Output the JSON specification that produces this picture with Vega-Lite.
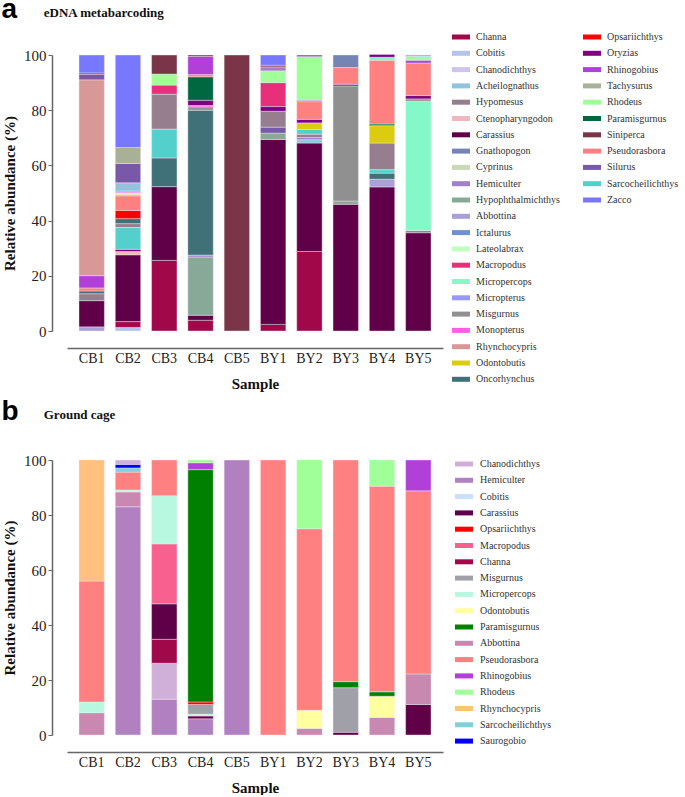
{
  "$schema": "https://vega.github.io/schema/vega-lite/v6.json",
  "background": "white",
  "padding": {"left": 1, "top": -4, "right": 0, "bottom": 0},
  "config": {
    "view": {"stroke": null},
    "axis": {"labelFont": "Liberation Serif", "titleFont": "Liberation Serif", "labelColor": "#222", "titleColor": "#111", "labelFontSize": 15, "titleFontSize": 15, "titleFontWeight": "bold", "domainColor": "#666", "tickColor": "#666", "domainWidth": 1.5, "grid": false},
    "legend": {"labelFont": "Liberation Serif", "labelFontSize": 10, "labelColor": "#333", "symbolType": "M-1.8,-0.5H1.8V0.5H-1.8Z", "symbolSize": 100, "symbolStrokeWidth": 0, "rowPadding": 6.3, "labelOffset": 10, "labelLimit": 220, "title": null},
    "title": {"font": "Liberation Sans", "fontSize": 28, "fontWeight": "bold", "color": "#000", "anchor": "start", "frame": "bounds", "dx": -1, "subtitleFont": "Liberation Serif", "subtitleFontSize": 13, "subtitleFontWeight": "bold", "subtitleColor": "#111", "subtitlePadding": -17}
  },
  "datasets": {
    "eDNA": [
      {"sample": "CB1", "species": "Abbottina", "value": 1.5, "rank": 1},
      {"sample": "CB1", "species": "Carassius", "value": 9.5, "rank": 2},
      {"sample": "CB1", "species": "Hypomesus", "value": 2.5, "rank": 3},
      {"sample": "CB1", "species": "Oncorhynchus", "value": 1.0, "rank": 4},
      {"sample": "CB1", "species": "Pseudorasbora", "value": 1.1, "rank": 5},
      {"sample": "CB1", "species": "Rhinogobius", "value": 4.4, "rank": 6},
      {"sample": "CB1", "species": "Rhynchocypris", "value": 71.0, "rank": 7},
      {"sample": "CB1", "species": "Silurus", "value": 2.0, "rank": 8},
      {"sample": "CB1", "species": "Siniperca", "value": 0.5, "rank": 9},
      {"sample": "CB1", "species": "Zacco", "value": 6.5, "rank": 10},
      {"sample": "CB2", "species": "Cobitis", "value": 1.3, "rank": 1},
      {"sample": "CB2", "species": "Channa", "value": 2.1, "rank": 2},
      {"sample": "CB2", "species": "Carassius", "value": 24.2, "rank": 3},
      {"sample": "CB2", "species": "Ctenopharyngodon", "value": 1.2, "rank": 4},
      {"sample": "CB2", "species": "Oryzias", "value": 0.8, "rank": 5},
      {"sample": "CB2", "species": "Sarcocheilichthys", "value": 7.9, "rank": 6},
      {"sample": "CB2", "species": "Hypomesus", "value": 1.4, "rank": 7},
      {"sample": "CB2", "species": "Oncorhynchus", "value": 1.8, "rank": 8},
      {"sample": "CB2", "species": "Opsariichthys", "value": 3.0, "rank": 9},
      {"sample": "CB2", "species": "Pseudorasbora", "value": 5.2, "rank": 10},
      {"sample": "CB2", "species": "Odontobutis", "value": 0.6, "rank": 11},
      {"sample": "CB2", "species": "Lateolabrax", "value": 0.6, "rank": 12},
      {"sample": "CB2", "species": "Monopterus", "value": 0.6, "rank": 13},
      {"sample": "CB2", "species": "Acheilognathus", "value": 3.0, "rank": 14},
      {"sample": "CB2", "species": "Silurus", "value": 7.0, "rank": 15},
      {"sample": "CB2", "species": "Tachysurus", "value": 5.8, "rank": 16},
      {"sample": "CB2", "species": "Zacco", "value": 33.5, "rank": 17},
      {"sample": "CB3", "species": "Channa", "value": 25.6, "rank": 1},
      {"sample": "CB3", "species": "Carassius", "value": 26.7, "rank": 2},
      {"sample": "CB3", "species": "Oncorhynchus", "value": 10.4, "rank": 3},
      {"sample": "CB3", "species": "Sarcocheilichthys", "value": 10.4, "rank": 4},
      {"sample": "CB3", "species": "Hypomesus", "value": 12.7, "rank": 5},
      {"sample": "CB3", "species": "Macropodus", "value": 3.3, "rank": 6},
      {"sample": "CB3", "species": "Rhodeus", "value": 4.0, "rank": 7},
      {"sample": "CB3", "species": "Siniperca", "value": 6.9, "rank": 8},
      {"sample": "CB4", "species": "Channa", "value": 3.9, "rank": 1},
      {"sample": "CB4", "species": "Carassius", "value": 1.8, "rank": 2},
      {"sample": "CB4", "species": "Hypophthalmichthys", "value": 21.1, "rank": 3},
      {"sample": "CB4", "species": "Hemiculter", "value": 0.7, "rank": 4},
      {"sample": "CB4", "species": "Oncorhynchus", "value": 52.5, "rank": 5},
      {"sample": "CB4", "species": "Misgurnus", "value": 1.2, "rank": 6},
      {"sample": "CB4", "species": "Monopterus", "value": 0.5, "rank": 7},
      {"sample": "CB4", "species": "Oryzias", "value": 1.9, "rank": 8},
      {"sample": "CB4", "species": "Paramisgurnus", "value": 8.5, "rank": 9},
      {"sample": "CB4", "species": "Pseudorasbora", "value": 0.8, "rank": 10},
      {"sample": "CB4", "species": "Rhinogobius", "value": 6.6, "rank": 11},
      {"sample": "CB4", "species": "Siniperca", "value": 0.5, "rank": 12},
      {"sample": "CB5", "species": "Siniperca", "value": 100.0, "rank": 1},
      {"sample": "BY1", "species": "Channa", "value": 2.4, "rank": 1},
      {"sample": "BY1", "species": "Carassius", "value": 67.0, "rank": 2},
      {"sample": "BY1", "species": "Hypophthalmichthys", "value": 2.3, "rank": 3},
      {"sample": "BY1", "species": "Silurus", "value": 2.1, "rank": 4},
      {"sample": "BY1", "species": "Hypomesus", "value": 5.8, "rank": 5},
      {"sample": "BY1", "species": "Oryzias", "value": 1.7, "rank": 6},
      {"sample": "BY1", "species": "Macropodus", "value": 8.7, "rank": 7},
      {"sample": "BY1", "species": "Rhodeus", "value": 4.2, "rank": 8},
      {"sample": "BY1", "species": "Hemiculter", "value": 1.5, "rank": 9},
      {"sample": "BY1", "species": "Siniperca", "value": 0.6, "rank": 10},
      {"sample": "BY1", "species": "Zacco", "value": 3.7, "rank": 11},
      {"sample": "BY2", "species": "Channa", "value": 28.8, "rank": 1},
      {"sample": "BY2", "species": "Carassius", "value": 39.3, "rank": 2},
      {"sample": "BY2", "species": "Acheilognathus", "value": 1.2, "rank": 3},
      {"sample": "BY2", "species": "Hemiculter", "value": 0.8, "rank": 4},
      {"sample": "BY2", "species": "Hypomesus", "value": 1.2, "rank": 5},
      {"sample": "BY2", "species": "Sarcocheilichthys", "value": 1.7, "rank": 6},
      {"sample": "BY2", "species": "Odontobutis", "value": 2.4, "rank": 7},
      {"sample": "BY2", "species": "Oryzias", "value": 1.3, "rank": 8},
      {"sample": "BY2", "species": "Pseudorasbora", "value": 6.4, "rank": 9},
      {"sample": "BY2", "species": "Rhinogobius", "value": 0.5, "rank": 10},
      {"sample": "BY2", "species": "Rhodeus", "value": 15.8, "rank": 11},
      {"sample": "BY2", "species": "Silurus", "value": 0.6, "rank": 12},
      {"sample": "BY3", "species": "Carassius", "value": 45.9, "rank": 1},
      {"sample": "BY3", "species": "Hypophthalmichthys", "value": 1.2, "rank": 2},
      {"sample": "BY3", "species": "Misgurnus", "value": 41.7, "rank": 3},
      {"sample": "BY3", "species": "Oryzias", "value": 0.6, "rank": 4},
      {"sample": "BY3", "species": "Pseudorasbora", "value": 6.0, "rank": 5},
      {"sample": "BY3", "species": "Gnathopogon", "value": 4.6, "rank": 6},
      {"sample": "BY4", "species": "Carassius", "value": 52.2, "rank": 1},
      {"sample": "BY4", "species": "Abbottina", "value": 2.8, "rank": 2},
      {"sample": "BY4", "species": "Oncorhynchus", "value": 2.2, "rank": 3},
      {"sample": "BY4", "species": "Sarcocheilichthys", "value": 1.2, "rank": 4},
      {"sample": "BY4", "species": "Hypomesus", "value": 9.7, "rank": 5},
      {"sample": "BY4", "species": "Odontobutis", "value": 6.3, "rank": 6},
      {"sample": "BY4", "species": "Paramisgurnus", "value": 0.6, "rank": 7},
      {"sample": "BY4", "species": "Pseudorasbora", "value": 23.0, "rank": 8},
      {"sample": "BY4", "species": "Micropercops", "value": 1.2, "rank": 9},
      {"sample": "BY4", "species": "Oryzias", "value": 1.0, "rank": 10},
      {"sample": "BY5", "species": "Carassius", "value": 35.6, "rank": 1},
      {"sample": "BY5", "species": "Hypomesus", "value": 0.8, "rank": 2},
      {"sample": "BY5", "species": "Micropercops", "value": 46.9, "rank": 3},
      {"sample": "BY5", "species": "Misgurnus", "value": 0.8, "rank": 4},
      {"sample": "BY5", "species": "Oryzias", "value": 1.2, "rank": 5},
      {"sample": "BY5", "species": "Pseudorasbora", "value": 11.8, "rank": 6},
      {"sample": "BY5", "species": "Rhinogobius", "value": 1.0, "rank": 7},
      {"sample": "BY5", "species": "Rhodeus", "value": 1.4, "rank": 8},
      {"sample": "BY5", "species": "Sarcocheilichthys", "value": 0.5, "rank": 9}
    ],
    "cage": [
      {"sample": "CB1", "species": "Abbottina", "value": 8.1, "rank": 1},
      {"sample": "CB1", "species": "Micropercops", "value": 3.9, "rank": 2},
      {"sample": "CB1", "species": "Pseudorasbora", "value": 44.0, "rank": 3},
      {"sample": "CB1", "species": "Rhynchocypris", "value": 44.0, "rank": 4},
      {"sample": "CB2", "species": "Hemiculter", "value": 83.0, "rank": 1},
      {"sample": "CB2", "species": "Abbottina", "value": 5.4, "rank": 2},
      {"sample": "CB2", "species": "Micropercops", "value": 0.7, "rank": 3},
      {"sample": "CB2", "species": "Pseudorasbora", "value": 6.5, "rank": 4},
      {"sample": "CB2", "species": "Sarcocheilichthys", "value": 1.5, "rank": 5},
      {"sample": "CB2", "species": "Saurogobio", "value": 1.3, "rank": 6},
      {"sample": "CB2", "species": "Chanodichthys", "value": 1.6, "rank": 7},
      {"sample": "CB3", "species": "Hemiculter", "value": 13.0, "rank": 1},
      {"sample": "CB3", "species": "Chanodichthys", "value": 13.1, "rank": 2},
      {"sample": "CB3", "species": "Channa", "value": 8.7, "rank": 3},
      {"sample": "CB3", "species": "Carassius", "value": 12.9, "rank": 4},
      {"sample": "CB3", "species": "Macropodus", "value": 21.8, "rank": 5},
      {"sample": "CB3", "species": "Micropercops", "value": 17.5, "rank": 6},
      {"sample": "CB3", "species": "Pseudorasbora", "value": 13.0, "rank": 7},
      {"sample": "CB4", "species": "Hemiculter", "value": 5.9, "rank": 1},
      {"sample": "CB4", "species": "Carassius", "value": 1.0, "rank": 2},
      {"sample": "CB4", "species": "Micropercops", "value": 0.7, "rank": 3},
      {"sample": "CB4", "species": "Misgurnus", "value": 3.5, "rank": 4},
      {"sample": "CB4", "species": "Opsariichthys", "value": 0.9, "rank": 5},
      {"sample": "CB4", "species": "Paramisgurnus", "value": 84.5, "rank": 6},
      {"sample": "CB4", "species": "Rhinogobius", "value": 2.5, "rank": 7},
      {"sample": "CB4", "species": "Rhodeus", "value": 1.0, "rank": 8},
      {"sample": "CB5", "species": "Hemiculter", "value": 100.0, "rank": 1},
      {"sample": "BY1", "species": "Pseudorasbora", "value": 100.0, "rank": 1},
      {"sample": "BY2", "species": "Abbottina", "value": 2.4, "rank": 1},
      {"sample": "BY2", "species": "Odontobutis", "value": 6.6, "rank": 2},
      {"sample": "BY2", "species": "Pseudorasbora", "value": 66.0, "rank": 3},
      {"sample": "BY2", "species": "Rhodeus", "value": 25.0, "rank": 4},
      {"sample": "BY3", "species": "Carassius", "value": 1.0, "rank": 1},
      {"sample": "BY3", "species": "Misgurnus", "value": 16.2, "rank": 2},
      {"sample": "BY3", "species": "Paramisgurnus", "value": 2.2, "rank": 3},
      {"sample": "BY3", "species": "Pseudorasbora", "value": 80.6, "rank": 4},
      {"sample": "BY4", "species": "Abbottina", "value": 6.4, "rank": 1},
      {"sample": "BY4", "species": "Odontobutis", "value": 7.7, "rank": 2},
      {"sample": "BY4", "species": "Paramisgurnus", "value": 1.6, "rank": 3},
      {"sample": "BY4", "species": "Pseudorasbora", "value": 74.8, "rank": 4},
      {"sample": "BY4", "species": "Rhodeus", "value": 9.5, "rank": 5},
      {"sample": "BY5", "species": "Carassius", "value": 11.1, "rank": 1},
      {"sample": "BY5", "species": "Abbottina", "value": 11.1, "rank": 2},
      {"sample": "BY5", "species": "Pseudorasbora", "value": 66.6, "rank": 3},
      {"sample": "BY5", "species": "Rhinogobius", "value": 11.2, "rank": 4}
    ]
  },
  "vconcat": [
    {
      "title": {"text": "a", "subtitle": "\u200b\u00a0\u00a0\u00a0\u00a0\u00a0\u00a0\u00a0\u00a0\u00a0\u00a0\u00a0\u00a0\u00a0eDNA metabarcoding", "offset": 8},
      "width": 376,
      "height": 276,
      "data": {"name": "eDNA"},
      "transform": [
        {"stack": "value", "groupby": ["sample"], "sort": [{"field": "rank", "order": "ascending"}], "as": ["y0", "y1"]}
      ],
      "encoding": {
        "x": {"field": "sample", "type": "nominal", "sort": ["CB1", "CB2", "CB3", "CB4", "CB5", "BY1", "BY2", "BY3", "BY4", "BY5"], "scale": {"paddingInner": 0.3, "paddingOuter": 0.33}, "axis": {"title": "Sample", "labelAngle": 0, "ticks": false, "offset": 17, "labelPadding": 3, "labelFontSize": 14, "titlePadding": 11}},
        "y": {"field": "y0", "type": "quantitative", "scale": {"domain": [0, 100], "nice": false}, "axis": {"title": "Relative abundance (%)", "values": [0, 20, 40, 60, 80, 100], "offset": 15, "tickSize": 4, "labelPadding": 2, "titlePadding": 6}},
        "y2": {"field": "y1"}
      },
      "layer": [
        {
          "transform": [{"filter": {"field": "species", "oneOf": ["Channa", "Cobitis", "Chanodichthys", "Acheilognathus", "Hypomesus", "Ctenopharyngodon", "Carassius", "Gnathopogon", "Cyprinus", "Hemiculter", "Hypophthalmichthys", "Abbottina", "Ictalurus", "Lateolabrax", "Macropodus", "Micropercops", "Micropterus", "Misgurnus", "Monopterus", "Rhynchocypris", "Odontobutis", "Oncorhynchus"]}}],
          "mark": {"type": "bar", "stroke": "#f6eef4", "strokeWidth": 0.4},
          "encoding": {
            "color": {"field": "species", "type": "nominal",
              "scale": {"domain": ["Channa", "Cobitis", "Chanodichthys", "Acheilognathus", "Hypomesus", "Ctenopharyngodon", "Carassius", "Gnathopogon", "Cyprinus", "Hemiculter", "Hypophthalmichthys", "Abbottina", "Ictalurus", "Lateolabrax", "Macropodus", "Micropercops", "Micropterus", "Misgurnus", "Monopterus", "Rhynchocypris", "Odontobutis", "Oncorhynchus"],
                "range": ["#a0084a", "#b4c4ea", "#d0c4e8", "#90c4dc", "#967e8e", "#eeb8c0", "#600048", "#7484b4", "#c8d8b8", "#a080c8", "#88a898", "#aaa0d8", "#7090d0", "#c0ffc0", "#e8307a", "#84f8c8", "#9898ff", "#909090", "#ff60e0", "#d89898", "#dccc10", "#407078"]},
              "legend": {"orient": "none", "legendX": 389, "legendY": -23, "labelFont": "Liberation Serif", "labelFontSize": 10}}
          }
        },
        {
          "transform": [{"filter": {"field": "species", "oneOf": ["Opsariichthys", "Oryzias", "Rhinogobius", "Tachysurus", "Rhodeus", "Paramisgurnus", "Siniperca", "Pseudorasbora", "Silurus", "Sarcocheilichthys", "Zacco"]}}],
          "mark": {"type": "bar", "stroke": "#f6eef4", "strokeWidth": 0.4},
          "encoding": {
            "color": {"field": "species", "type": "nominal",
              "scale": {"domain": ["Opsariichthys", "Oryzias", "Rhinogobius", "Tachysurus", "Rhodeus", "Paramisgurnus", "Siniperca", "Pseudorasbora", "Silurus", "Sarcocheilichthys", "Zacco"],
                "range": ["#ff0000", "#800080", "#b040d8", "#a8b098", "#a0ff98", "#006840", "#7b3548", "#ff8080", "#7858a8", "#54d0cc", "#7878ff"]},
              "legend": {"orient": "none", "legendX": 520, "legendY": -23, "labelFont": "Liberation Serif", "labelFontSize": 10}}
          }
        }
      ],
      "resolve": {"scale": {"color": "independent"}}
    },
    {
      "title": {"text": "b", "subtitle": "\u200b\u00a0\u00a0\u00a0\u00a0\u00a0\u00a0\u00a0\u00a0\u00a0\u00a0\u00a0\u00a0\u00a0Ground cage", "offset": 27},
      "width": 376,
      "height": 275,
      "data": {"name": "cage"},
      "mark": {"type": "bar", "stroke": "#f6eef4", "strokeWidth": 0.4},
      "encoding": {
        "x": {"field": "sample", "type": "nominal", "sort": ["CB1", "CB2", "CB3", "CB4", "CB5", "BY1", "BY2", "BY3", "BY4", "BY5"], "scale": {"paddingInner": 0.3, "paddingOuter": 0.33}, "axis": {"title": "Sample", "labelAngle": 0, "ticks": false, "offset": 17, "labelPadding": 3, "labelFontSize": 14, "titlePadding": 11}},
        "y": {"field": "value", "type": "quantitative", "stack": "zero", "scale": {"domain": [0, 100], "nice": false}, "axis": {"title": "Relative abundance (%)", "values": [0, 20, 40, 60, 80, 100], "offset": 15, "tickSize": 4, "labelPadding": 2, "titlePadding": 6}},
        "order": {"field": "rank", "type": "quantitative", "sort": "ascending"},
        "color": {"field": "species", "type": "nominal",
          "scale": {"domain": ["Chanodichthys", "Hemiculter", "Cobitis", "Carassius", "Opsariichthys", "Macropodus", "Channa", "Misgurnus", "Micropercops", "Odontobutis", "Paramisgurnus", "Abbottina", "Pseudorasbora", "Rhinogobius", "Rhodeus", "Rhynchocypris", "Sarcocheilichthys", "Saurogobio"],
            "range": ["#d0b0d8", "#b080c0", "#c8e0f8", "#600048", "#ff0000", "#f86090", "#a0084a", "#a0a0a8", "#b8f8e0", "#ffffa0", "#008000", "#c888b0", "#ff8080", "#b040d8", "#a0ff98", "#ffc080", "#80d0d8", "#0000ff"]},
          "legend": {"orient": "none", "legendX": 392, "legendY": -1, "labelOffset": 11, "labelFont": "Liberation Serif", "labelFontSize": 10}}
      }
    }
  ],
  "resolve": {"scale": {"color": "independent"}, "legend": {"color": "independent"}},
  "spacing": 7
}
